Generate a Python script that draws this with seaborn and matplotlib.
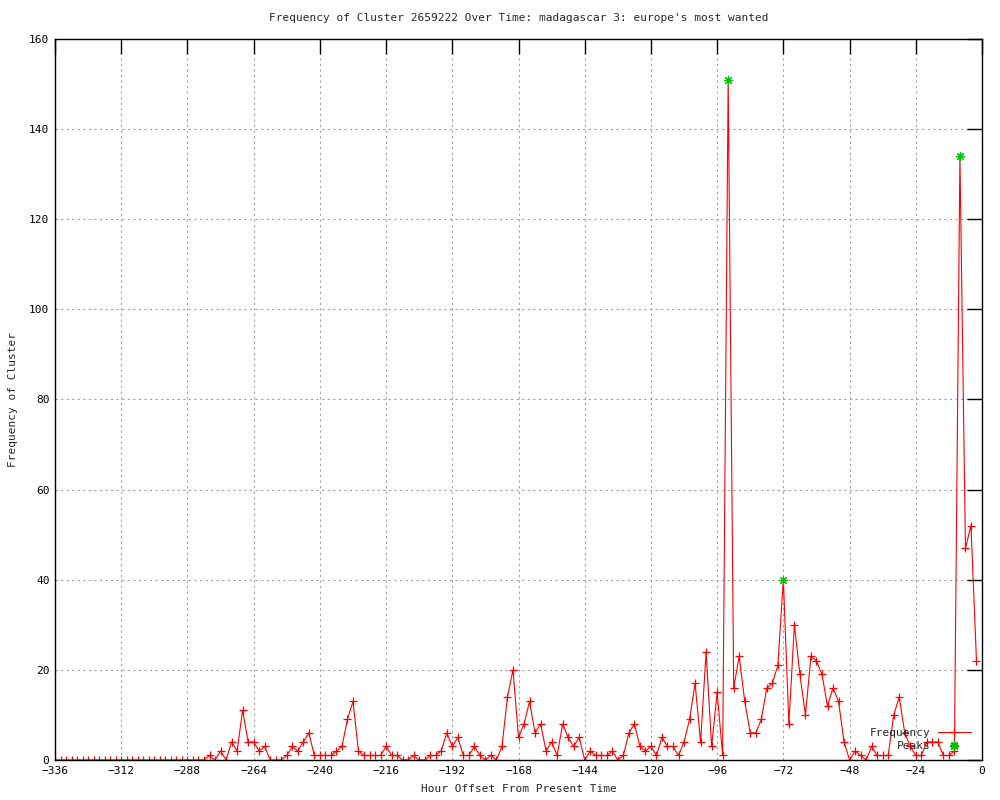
import numpy as np
import pandas as pd
import matplotlib
matplotlib.use("Agg")
import matplotlib.pyplot as plt
import seaborn as sns
from matplotlib.lines import Line2D

sns.set_style("white")
plt.rcParams['font.family'] = ['DejaVu Sans Mono', 'DejaVu Sans']

# valandos: kas 2 val. nuo -336 iki -2
hours = list(range(-336, 0, 2))
freq = [0] * 28 + [
    1, 0, 2, 0, 4, 2, 11, 4, 4, 2, 3, 0, 0, 0, 1, 3, 2, 4, 6, 1,
    1, 1, 1, 2, 3, 9, 13, 2, 1, 1, 1, 1, 3, 1, 1, 0, 0, 1, 0, 0,
    1, 1, 2, 6, 3, 5, 1, 1, 3, 1, 0, 1, 0, 3, 14, 20, 5, 8, 13, 6,
    8, 2, 4, 1, 8, 5, 3, 5, 0, 2, 1, 1, 1, 2, 0, 1, 6, 8, 3, 2,
    3, 1, 5, 3, 3, 1, 4, 9, 17, 4, 24, 3, 15, 1, 151, 16, 23, 13, 6, 6,
    9, 16, 17, 21, 40, 8, 30, 19, 10, 23, 22, 19, 12, 16, 13, 4, 0, 2, 1, 0,
    3, 1, 1, 1, 10, 14, 6, 3, 1, 1, 4, 4, 4, 1, 1, 2, 134, 47, 52, 22,
]

peak_hours = [-92, -72, -10, -8]
peak_vals = [151, 40, 3, 134]

df = pd.DataFrame({'hour': hours, 'freq': freq})
peaks = pd.DataFrame({'hour': peak_hours, 'freq': peak_vals})

fig = plt.figure(figsize=(10, 8), dpi=100)
ax = fig.add_axes([0.055, 0.05, 0.927, 0.90125])

sns.lineplot(data=df, x='hour', y='freq', ax=ax, color='#ff0000', linewidth=0.8,
             marker='+', markersize=5.5, markeredgewidth=0.9, markeredgecolor='#ff0000')
sns.scatterplot(data=peaks, x='hour', y='freq', ax=ax, color='#00c000',
                marker=(8, 2, 0), s=32, linewidth=0.8, edgecolor='#00c000', zorder=5)

ax.set_xlim(-336, 0)
ax.set_ylim(0, 160)
ax.set_xticks(range(-336, 1, 24))
ax.set_yticks(range(0, 161, 20))
ax.grid(True, color='#a0a0a0', linestyle=(0, (2, 3)), linewidth=0.8)
ax.set_axisbelow(True)
for s in ax.spines.values():
    s.set_color('black')
    s.set_linewidth(1.0)
ax.tick_params(direction='in', length=11, width=1, top=True, right=True,
               labelsize=8, pad=4, colors='black')

ax.set_title("Frequency of Cluster 2659222 Over Time: madagascar 3: europe's most wanted",
             fontsize=8, pad=13)
ax.set_xlabel("Hour Offset From Present Time", fontsize=8, labelpad=6)
ax.set_ylabel("Frequency of Cluster", fontsize=8, labelpad=8)

handles = [
    Line2D([], [], color='#ff0000', linewidth=0.8, marker='+', markersize=5.5),
    Line2D([], [], color='#00c000', linestyle='none', marker=(8, 2, 0), markersize=6),
]
ax.legend(handles, ['Frequency', 'Peaks'], loc='lower right', bbox_to_anchor=(0.994, 0.005),
          frameon=False, markerfirst=False, fontsize=8, handlelength=3.0,
          handletextpad=0.6, borderpad=0, labelspacing=0.25)

fig.savefig("out.png", dpi=100)
